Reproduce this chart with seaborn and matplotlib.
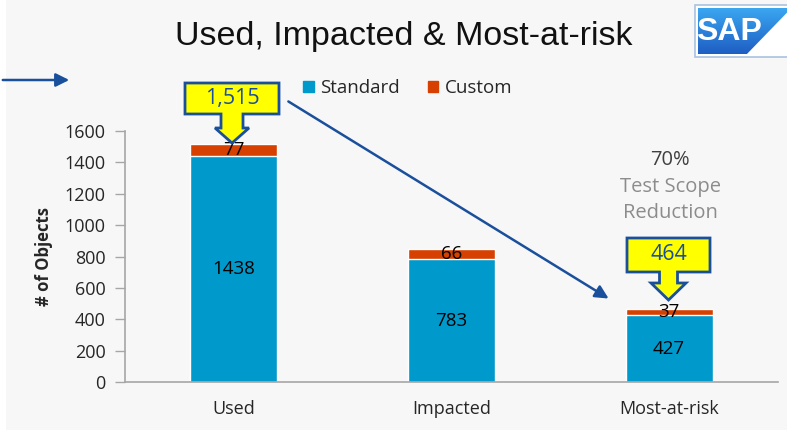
import numpy as np
import pandas as pd
import matplotlib
matplotlib.use("Agg")
import matplotlib.pyplot as plt
import seaborn as sns
from matplotlib.patches import Polygon, Rectangle, FancyArrowPatch

# data
categories = ["Used", "Impacted", "Most-at-risk"]
standard = [1438, 783, 427]
custom = [77, 66, 37]
callout_text = ["1,515", "464"]
reduction_pct = "70%"

STD = "#0099cc"
CUS = "#d64000"
NAVY = "#1a4f9c"
W, H = 787, 433

sns.set_theme(style="white")
plt.rcParams["font.family"] = ["Open Sans", "DejaVu Sans"]

df = pd.DataFrame({"cat": categories, "standard": standard, "custom": custom})
df["total"] = df["standard"] + df["custom"]

fig = plt.figure(figsize=(W / 100, H / 100), dpi=100)
fig.patch.set_facecolor("white")


def fx(x):
    return x / W


def fy(y):
    return 1 - y / H


# grey slide background
fig.add_artist(Rectangle((fx(6), fy(430)), 1, fy(0) - fy(430) + 0.01,
                         transform=fig.transFigure, facecolor="#f7f7f7",
                         edgecolor="none", zorder=0))

ax = fig.add_axes([fx(125), fy(382), fx(778) - fx(125), fy(131) - fy(382)])
ax.set_facecolor("none")

# stacked bars: total in custom colour, standard on top of it
sns.barplot(data=df, x="cat", y="total", color=CUS, saturation=1, width=0.4, ax=ax)
sns.barplot(data=df, x="cat", y="standard", color=STD, saturation=1, width=0.4, ax=ax)

for i, row in df.iterrows():
    ax.text(i, row["standard"] / 2, str(row["standard"]), ha="center", va="center",
            fontsize=13.5, color="black")
    ax.text(i, row["standard"] + row["custom"] / 2, str(row["custom"]), ha="center",
            va="center", fontsize=13.5, color="black")

ax.set_ylim(0, 1600)
ax.set_xlim(-0.5, 2.5)
ax.set_yticks(range(0, 1601, 200))
ax.tick_params(axis="y", length=7, width=1, color="#a6a6a6", pad=7, labelsize=13,
               labelcolor="#262626", left=True)
ax.tick_params(axis="x", length=0, pad=13, labelsize=13, labelcolor="#262626")
for s in ["top", "right"]:
    ax.spines[s].set_visible(False)
for s in ["left", "bottom"]:
    ax.spines[s].set_color("#a6a6a6")
    ax.spines[s].set_linewidth(1.2)
ax.set_xlabel("")
ax.set_ylabel("# of Objects", fontsize=12, fontweight="bold", color="#262626")
ax.yaxis.set_label_coords(-0.11, 0.5)

# title
fig.text(fx(404), fy(36), "Used, Impacted & Most-at-risk", ha="center", va="center",
         fontsize=24.5, family="Liberation Sans", color="#111111")

# legend
handles = [Rectangle((0, 0), 1, 1, color=STD), Rectangle((0, 0), 1, 1, color=CUS)]
fig.legend(handles, ["Standard", "Custom"], loc="center", bbox_to_anchor=(fx(408), fy(88)),
           ncol=2, frameon=False, fontsize=13.5, handlelength=0.55, handleheight=0.55,
           handletextpad=0.35, columnspacing=1.5)

# reduction note
fig.text(fx(670), fy(160), reduction_pct, ha="center", va="center", fontsize=14.5, color="#404040")
fig.text(fx(670), fy(187), "Test Scope", ha="center", va="center", fontsize=14.5, color="#8c8c8c")
fig.text(fx(670), fy(213), "Reduction", ha="center", va="center", fontsize=14.5, color="#8c8c8c")


def callout(x0, x1, y0, y1, sw, hw, yh, tip, text):
    cx = (x0 + x1) / 2
    pts = [(x0, y0), (x1, y0), (x1, y1), (cx + sw / 2, y1), (cx + sw / 2, yh),
           (cx + hw / 2, yh), (cx, tip), (cx - hw / 2, yh), (cx - sw / 2, yh),
           (cx - sw / 2, y1), (x0, y1)]
    fig.add_artist(Polygon([(fx(a), fy(b)) for a, b in pts], closed=True,
                           transform=fig.transFigure, facecolor="#ffff00",
                           edgecolor=NAVY, linewidth=2, joinstyle="miter", zorder=5))
    fig.text(fx(cx), fy((y0 + y1) / 2), text, ha="center", va="center", fontsize=15.5,
             color=NAVY, zorder=6)


callout(185, 279, 83, 114, 22, 34, 128, 143, callout_text[0])
callout(627, 710, 238, 272, 18, 35, 283, 300, callout_text[1])

# arrows
for (a, b), (c, d) in [((0, 80), (72, 80)), ((286, 100), (611, 300))]:
    fig.add_artist(FancyArrowPatch((fx(a), fy(b)), (fx(c), fy(d)), transform=fig.transFigure,
                                   arrowstyle="-|>", mutation_scale=20, color=NAVY,
                                   linewidth=1.8, zorder=4))

# SAP logo
fig.add_artist(Rectangle((fx(695), fy(57)), fx(100), fy(5) - fy(57), transform=fig.transFigure,
                         facecolor="white", edgecolor="#a9c3e0", linewidth=1.2, zorder=3))
lax = fig.add_axes([fx(698), fy(54), fx(89), fy(8) - fy(54)])
lax.set_zorder(8)
lax.axis("off")
grad = np.linspace(0, 1, 50).reshape(-1, 1)
im = lax.imshow(grad, aspect="auto", cmap=matplotlib.colors.LinearSegmentedColormap.from_list(
    "sap", ["#3aa6f0", "#1e5ec4"]), extent=[0, 1, 1, 0])
lax.set_xlim(0, 1)
lax.set_ylim(1, 0)
clip = Polygon([(0, 0), (1.05, 0), (0.55, 1), (0, 1)], closed=True, transform=lax.transData)
im.set_clip_path(clip)
fig.text(fx(729), fy(32), "SAP", ha="center", va="center", fontsize=23, fontweight="bold",
         family="Liberation Sans", color="white", zorder=10)

fig.savefig("out.png", dpi=100)
